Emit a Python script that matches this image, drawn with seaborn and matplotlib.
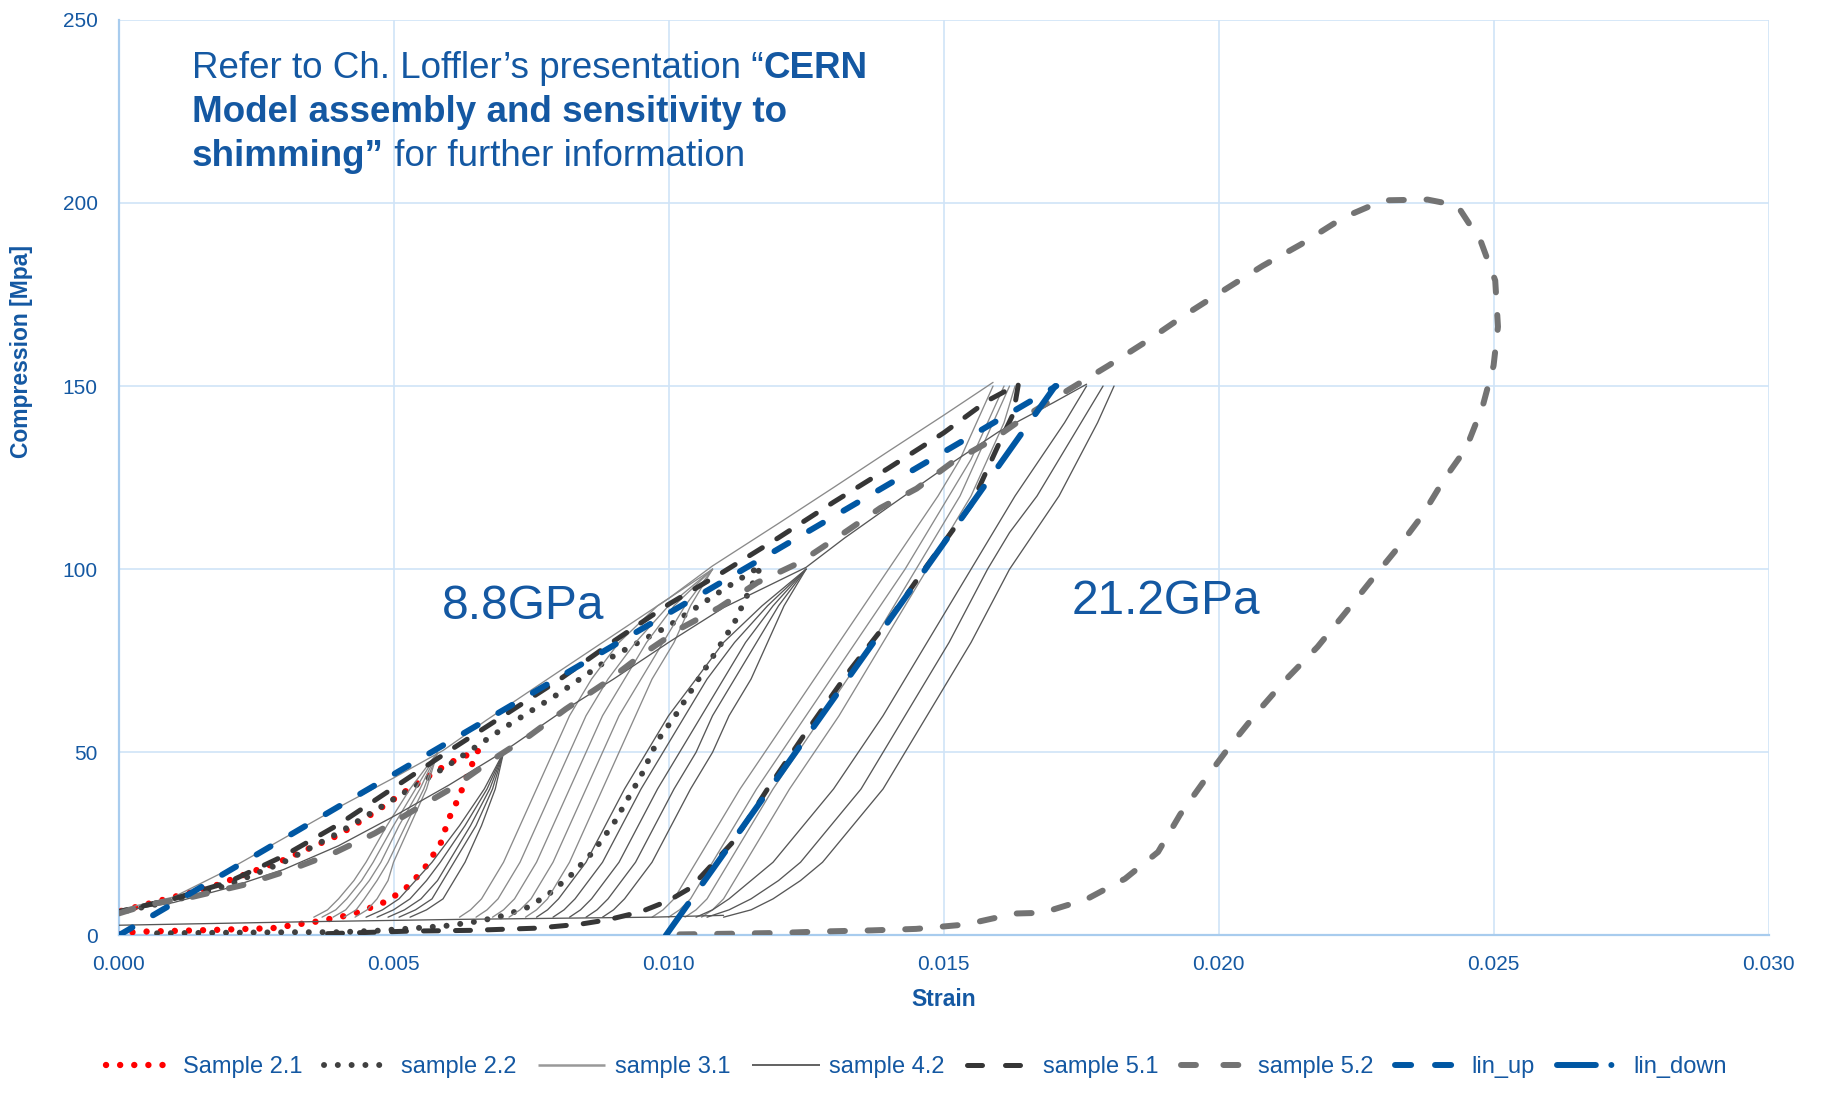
import numpy as np
import pandas as pd
import matplotlib
matplotlib.use("Agg")
import matplotlib.pyplot as plt
from matplotlib.lines import Line2D
from matplotlib.ticker import FuncFormatter
import seaborn as sns

# ---------------------------------------------------------------- data
# Sample 2.1: foot along the bottom, steep rise to 50 MPa, return along upper branch
S21_X = [0.0000, 0.0003, 0.0017, 0.0028, 0.0036, 0.0041, 0.0044, 0.0049, 0.0053, 0.0056,
         0.00586, 0.0060, 0.0062, 0.00636, 0.00654, 0.0060, 0.0053, 0.0046, 0.0040, 0.0030,
         0.0017, 0.0000]
S21_Y = [0.3, 1.0, 1.5, 2.0, 3.8, 5.3, 6.5, 9.5, 13.8, 19.1,
         25.3, 31.7, 38.1, 44.4, 50.6, 47.0, 40.2, 33.1, 27.4, 20.6,
         13.3, 6.5]

# Sample 2.2: cycle to 100 MPa
S22_X = [0.0007, 0.0014, 0.0032, 0.0040, 0.0047, 0.0054, 0.0060, 0.0065, 0.0069, 0.0074,
         0.0078, 0.00825, 0.00862, 0.0090, 0.0095, 0.0098, 0.0101, 0.0107, 0.0112, 0.01168,
         0.0110, 0.0100, 0.0090, 0.0080, 0.0070, 0.0060, 0.0050, 0.0040, 0.0030, 0.0020,
         0.0010, 0.0000]
S22_Y = [0.6, 0.7, 0.9, 0.9, 1.3, 2.0, 2.7, 3.8, 5.0, 7.4,
         11.0, 16.8, 22.7, 30.5, 43.6, 53.2, 59.5, 73.6, 85.5, 100.9,
         94.5, 84.5, 76.3, 66.0, 56.6, 46.5, 37.2, 28.0, 20.0, 13.8,
         9.5, 6.3]

# Sample 3.1: loading envelope and unload/reload cycles at 50, 100, 150 MPa
S31_ENV_X = [0.0, 0.001, 0.002, 0.003, 0.004, 0.005, 0.0059, 0.00669, 0.008, 0.009,
             0.010, 0.0108, 0.012, 0.013, 0.014, 0.015, 0.0159]
S31_ENV_Y = [7.0, 10.5, 18.0, 26.5, 35.0, 43.0, 50.5, 58.8, 72.0, 82.0,
             92.0, 100.9, 112.5, 122.3, 132.2, 142.0, 151.0]

# stress levels (MPa) at which the strain of each cycle branch is listed
LEVELS_50 = [5, 7, 10, 15, 20, 30, 40, 50]
LEVELS_100 = [5, 7, 10, 15, 20, 30, 40, 50, 60, 70, 80, 90, 100]
LEVELS_150 = [5, 7, 10, 15, 20, 30, 40, 50, 60, 70, 80, 90, 100, 110, 120, 130, 140, 150]

S31_CYCLES_50 = [
    [0.00355, 0.0038, 0.0040, 0.00428, 0.0045, 0.00488, 0.0053, 0.0058],
    [0.0037, 0.00395, 0.00415, 0.00442, 0.00463, 0.0050, 0.0054, 0.0058],
    [0.0039, 0.00413, 0.0043, 0.00456, 0.00477, 0.0051, 0.00548, 0.0058],
    [0.0041, 0.00432, 0.00447, 0.0047, 0.0049, 0.00522, 0.00555, 0.0058],
    [0.0043, 0.00452, 0.0047, 0.0049, 0.0050, 0.0053, 0.0056, 0.0058],
]
S31_CYCLES_100 = [
    [0.0062, 0.0064, 0.0066, 0.0068, 0.0070, 0.0073, 0.0076, 0.0079, 0.0082, 0.0086, 0.0091, 0.0098, 0.0108],
    [0.0065, 0.0067, 0.0069, 0.0071, 0.0073, 0.0076, 0.0079, 0.0082, 0.0085, 0.0089, 0.0094, 0.0100, 0.0108],
    [0.0068, 0.0070, 0.0072, 0.0074, 0.0076, 0.0079, 0.0082, 0.0085, 0.0088, 0.0092, 0.0096, 0.0101, 0.0108],
    [0.0071, 0.0073, 0.0075, 0.0077, 0.0079, 0.0082, 0.0085, 0.0088, 0.0091, 0.0095, 0.0099, 0.0103, 0.0108],
    [0.0074, 0.0076, 0.0078, 0.0080, 0.0082, 0.0085, 0.0088, 0.0091, 0.0094, 0.0097, 0.0101, 0.0104, 0.0108],
]
S31_CYCLES_150 = [
    [0.0097, 0.0099, 0.0101, 0.0103, 0.0105, 0.0109, 0.0113, 0.01175, 0.0122,
     0.01265, 0.0131, 0.01355, 0.0140, 0.01445, 0.0149, 0.0153, 0.0156, 0.0159],
    [0.0100, 0.0102, 0.0104, 0.0106, 0.0108, 0.0112, 0.0116, 0.01205, 0.0125,
     0.01295, 0.0134, 0.01385, 0.0143, 0.0147, 0.0151, 0.0155, 0.0158, 0.0161],
    [0.0103, 0.0105, 0.0107, 0.0109, 0.0111, 0.0115, 0.0119, 0.01235, 0.0128,
     0.01325, 0.0137, 0.0141, 0.0145, 0.0149, 0.0153, 0.0156, 0.0159, 0.0162],
    [0.0106, 0.0108, 0.0110, 0.0112, 0.0114, 0.0118, 0.0122, 0.01265, 0.0131,
     0.0135, 0.0139, 0.0143, 0.0147, 0.0151, 0.0155, 0.0158, 0.0161, 0.0163],
]

# Sample 4.2
S42_ENV_X = [0.0, 0.001, 0.002, 0.003, 0.004, 0.005, 0.006, 0.0070, 0.008, 0.009,
             0.010, 0.011, 0.0125, 0.0132, 0.014, 0.015, 0.016, 0.017, 0.0176]
S42_ENV_Y = [6.5, 9.0, 13.0, 18.0, 24.5, 32.5, 41.0, 50.2, 60.5, 70.0,
             80.0, 89.5, 100.5, 108.5, 117.0, 127.5, 137.5, 145.5, 150.5]
S42_BASE_X = [0.0, 0.0036, 0.0062, 0.0097, 0.0110]
S42_BASE_Y = [2.8, 3.8, 4.4, 5.0, 5.5]

S42_CYCLES_50 = [
    [0.0045, 0.0048, 0.0051, 0.0054, 0.0057, 0.0062, 0.00665, 0.0070],
    [0.0047, 0.0050, 0.0053, 0.0056, 0.00585, 0.0063, 0.0067, 0.0070],
    [0.0049, 0.0052, 0.0055, 0.0058, 0.0060, 0.0064, 0.00675, 0.0070],
    [0.0051, 0.0054, 0.0057, 0.0059, 0.0061, 0.0065, 0.0068, 0.0070],
    [0.0053, 0.0056, 0.0059, 0.0061, 0.0063, 0.0066, 0.00685, 0.0070],
]
S42_CYCLES_100 = [
    [0.0076, 0.0078, 0.0080, 0.00825, 0.0085, 0.00885, 0.0092, 0.0096, 0.0100, 0.0105, 0.0110, 0.0117, 0.0125],
    [0.0079, 0.0081, 0.0083, 0.00855, 0.0088, 0.00915, 0.0095, 0.0099, 0.0103, 0.0107, 0.0112, 0.0118, 0.0125],
    [0.0082, 0.0084, 0.0086, 0.00885, 0.0091, 0.00945, 0.0098, 0.0102, 0.0106, 0.0110, 0.0114, 0.0119, 0.0125],
    [0.0085, 0.0087, 0.0089, 0.00915, 0.0094, 0.00975, 0.0101, 0.0105, 0.0108, 0.0112, 0.0116, 0.0120, 0.0125],
    [0.0088, 0.0090, 0.0092, 0.00945, 0.0097, 0.01005, 0.0104, 0.0108, 0.0111, 0.0115, 0.0118, 0.0121, 0.0125],
]
S42_CYCLES_150 = [
    [0.0105, 0.0108, 0.0111, 0.0115, 0.0119, 0.01245, 0.0130, 0.01345, 0.0139,
     0.0143, 0.0147, 0.0151, 0.0155, 0.0159, 0.0163, 0.01675, 0.0172, 0.0176],
    [0.0107, 0.0111, 0.0115, 0.0120, 0.0124, 0.01295, 0.0135, 0.0139, 0.0143,
     0.0147, 0.0151, 0.01545, 0.0158, 0.0162, 0.0167, 0.0171, 0.0175, 0.0179],
    [0.0110, 0.0115, 0.0119, 0.0124, 0.0128, 0.01335, 0.0139, 0.0143, 0.0147,
     0.0151, 0.0155, 0.01585, 0.0162, 0.01665, 0.0171, 0.01745, 0.0178, 0.0181],
]

# Sample 5.1: single cycle to 150 MPa
S51_X = [0.0038, 0.0053, 0.0064, 0.0076, 0.0084, 0.0089, 0.0095, 0.0100, 0.0104, 0.0112,
         0.0118, 0.0125, 0.0133, 0.0140, 0.0147, 0.0155, 0.0160, 0.01627, 0.01636, 0.0158,
         0.0150, 0.0140, 0.0130, 0.0120, 0.0110, 0.0100, 0.0090, 0.0080, 0.0070, 0.0060,
         0.0050, 0.0040, 0.0030, 0.0020, 0.0010, 0.0000]
S51_Y = [0.5, 1.2, 1.4, 2.0, 3.1, 4.3, 6.5, 9.5, 13.0, 26.0,
         40.0, 55.5, 72.5, 86.0, 101.0, 117.5, 134.0, 142.5, 150.5, 146.0,
         137.2, 127.6, 118.3, 108.6, 99.3, 90.4, 80.3, 69.7, 60.0, 50.3,
         40.3, 30.3, 21.7, 14.6, 10.0, 6.5]

# Sample 5.2: single cycle to 200 MPa
S52_X = [0.0102, 0.0112, 0.0120, 0.0128, 0.0137, 0.0145, 0.0154, 0.0160, 0.0163, 0.0168,
         0.0176, 0.0183, 0.0189, 0.0193, 0.0198, 0.0202, 0.0207, 0.0212, 0.0218, 0.0223,
         0.0228, 0.0233, 0.0237, 0.0241, 0.0245, 0.0248, 0.0250, 0.02508, 0.02503, 0.02477,
         0.02434, 0.0238, 0.0230, 0.02227, 0.0215, 0.0208, 0.0201, 0.0194, 0.0187, 0.0180,
         0.01733, 0.01655, 0.01589, 0.01517, 0.01451, 0.01385, 0.01313, 0.01238, 0.01162, 0.01092,
         0.01025, 0.00953, 0.00886, 0.00813, 0.00747, 0.00679, 0.00608, 0.00536, 0.00466, 0.0039,
         0.00306, 0.00227, 0.00136, 0.0005, 0.0]
S52_Y = [0.3, 0.5, 0.7, 1.1, 1.4, 1.8, 3.0, 5.0, 6.0, 6.2,
         9.9, 15.5, 22.8, 33.0, 43.5, 51.6, 60.9, 69.5, 78.8, 88.0,
         97.4, 106.6, 114.6, 124.5, 133.0, 144.4, 155.6, 166.2, 178.8, 189.4,
         199.3, 200.9, 200.7, 196.0, 188.7, 182.8, 176.2, 169.5, 162.3, 155.6,
         149.5, 142.3, 135.3, 129.3, 122.0, 116.7, 109.3, 101.8, 96.4, 89.5,
         84.1, 76.8, 69.1, 61.8, 54.5, 47.9, 40.4, 34.1, 27.9, 22.4,
         17.6, 13.8, 10.6, 8.3, 6.0]

# Linear fits (8.8 GPa loading, 21.2 GPa unloading)
LIN_UP_X = [0.0, 0.01705]
LIN_UP_Y = [0.0, 150.0]
LIN_DOWN_X = [0.00995, 0.01703]
LIN_DOWN_Y = [0.0, 150.0]

LABELS = ["Sample 2.1", "sample 2.2", "sample 3.1", "sample 4.2",
          "sample 5.1", "sample 5.2", "lin_up", "lin_down"]

# ---------------------------------------------------------------- style
BLUE_TEXT = "#1458A2"
BLUE_LINE = "#0057A3"
GRID = "#D0E4F7"
SPINE = "#A8CCEE"

sns.set_theme(style="white")
plt.rcParams["font.family"] = ["Liberation Sans", "DejaVu Sans"]

fig = plt.figure(figsize=(18.22, 11.0), dpi=100)
ax = fig.add_axes([0.06504, 0.14955, 0.90565, 0.8325])


def frame(segments):
    parts = []
    for k, (xs, ys) in enumerate(segments):
        parts.append(pd.DataFrame({"strain": xs, "stress": ys, "seg": k}))
    return pd.concat(parts, ignore_index=True)


def cycles(levels, strain_lists):
    return [(xs, levels) for xs in strain_lists]


def draw(segments, z, **style):
    sns.lineplot(data=frame(segments), x="strain", y="stress", units="seg",
                 estimator=None, sort=False, ax=ax, legend=False, zorder=z,
                 solid_capstyle="round", dash_capstyle="round", **style)


STYLES = {
    "s21": dict(color="#FF0000", linewidth=4.6, linestyle=(0, (0.01, 2.2))),
    "s22": dict(color="#404040", linewidth=4.3, linestyle=(0, (0.01, 2.3))),
    "s31": dict(color="#8A8A8A", linewidth=0.95, linestyle="-"),
    "s42": dict(color="#575757", linewidth=0.95, linestyle="-"),
    "s51": dict(color="#363636", linewidth=3.6, linestyle=(0, (3.0, 3.4))),
    "s52": dict(color="#737373", linewidth=4.3, linestyle=(0, (2.5, 3.8))),
    "up": dict(color=BLUE_LINE, linewidth=4.3, linestyle=(0, (2.7, 4.0))),
    "down": dict(color=BLUE_LINE, linewidth=4.3, linestyle=(0, (6.5, 4.2))),
}

draw([(S21_X, S21_Y)], 3, **STYLES["s21"])
draw([(S22_X, S22_Y)], 4, **STYLES["s22"])
draw([(S31_ENV_X, S31_ENV_Y)]
     + cycles(LEVELS_50, S31_CYCLES_50)
     + cycles(LEVELS_100, S31_CYCLES_100)
     + cycles(LEVELS_150, S31_CYCLES_150), 5, **STYLES["s31"])
draw([(S42_ENV_X, S42_ENV_Y), (S42_BASE_X, S42_BASE_Y)]
     + cycles(LEVELS_50, S42_CYCLES_50)
     + cycles(LEVELS_100, S42_CYCLES_100)
     + cycles(LEVELS_150, S42_CYCLES_150), 6, **STYLES["s42"])
draw([(S51_X, S51_Y)], 7, **STYLES["s51"])
draw([(S52_X, S52_Y)], 8, **STYLES["s52"])
draw([(LIN_UP_X, LIN_UP_Y)], 9, **STYLES["up"])
draw([(LIN_DOWN_X, LIN_DOWN_Y)], 10, **STYLES["down"])

# ---------------------------------------------------------------- axes
ax.set_xlim(0, 0.030)
ax.set_ylim(0, 250)
ax.set_xticks(np.arange(0, 0.0301, 0.005))
ax.set_yticks(np.arange(0, 251, 50))
ax.xaxis.set_major_formatter(FuncFormatter(lambda v, p: f"{v:.3f}"))
ax.yaxis.set_major_formatter(FuncFormatter(lambda v, p: f"{v:.0f}"))
ax.grid(True, color=GRID, linewidth=1.2, zorder=0)
ax.set_axisbelow(True)
for side in ("top", "right"):
    ax.spines[side].set_visible(False)
for side in ("left", "bottom"):
    ax.spines[side].set_color(SPINE)
    ax.spines[side].set_linewidth(1.6)
ax.tick_params(axis="both", length=0, labelsize=15, labelcolor=BLUE_TEXT)
ax.tick_params(axis="x", pad=14)
ax.tick_params(axis="y", pad=15)
ax.set_xlabel("")
ax.set_ylabel("")

fig.text(943.5 / 1822, 1 - 999 / 1100, "Strain", ha="center", va="center",
         fontsize=16.5, fontweight="bold", color=BLUE_TEXT)
fig.text(22 / 1822, 1 - 351.5 / 1100, "Compression [Mpa]", ha="center", va="center",
         rotation=90, fontsize=16.5, fontweight="bold", color=BLUE_TEXT)

# ---------------------------------------------------------------- notes
note_kw = dict(fontsize=26.5, color=BLUE_TEXT)
t1 = ax.text(0.0444, 0.9366, "Refer to Ch. Loffler\u2019s presentation \u201c",
             transform=ax.transAxes, va="baseline", ha="left", **note_kw)
ax.annotate("CERN", xy=(1, 0), xycoords=t1, va="bottom", ha="left",
            fontweight="bold", **note_kw)
ax.text(0.0444, 0.8884, "Model assembly and sensitivity to", transform=ax.transAxes,
        va="baseline", ha="left", fontweight="bold", **note_kw)
t3 = ax.text(0.0444, 0.8403, "shimming\u201d", transform=ax.transAxes,
             va="baseline", ha="left", fontweight="bold", **note_kw)
ax.annotate(" for further information", xy=(1, 0), xycoords=t3, va="bottom",
            ha="left", **note_kw)

ax.text(0.1958, 0.3453, "8.8GPa", transform=ax.transAxes, va="baseline", ha="left",
        fontsize=34.5, color=BLUE_TEXT)
ax.text(0.5775, 0.3516, "21.2GPa", transform=ax.transAxes, va="baseline", ha="left",
        fontsize=34.5, color=BLUE_TEXT)

# ---------------------------------------------------------------- legend
# legend keys: two dashes per dashed key, long-dash-dot key for lin_down
handle_styles = [
    STYLES["s21"], STYLES["s22"],
    dict(color="#999999", linewidth=1.8, linestyle="-"),
    dict(color="#555555", linewidth=1.3, linestyle="-"),
    dict(color="#363636", linewidth=3.6, linestyle=(0, (3.0, 4.6))),
    dict(color="#737373", linewidth=4.3, linestyle=(0, (2.5, 4.6))),
    dict(color=BLUE_LINE, linewidth=4.3, linestyle=(0, (2.7, 4.0))),
    dict(color=BLUE_LINE, linewidth=4.3, linestyle=(0, (6.5, 2.6, 0.01, 2.6))),
]
handles = [Line2D([0], [0], dash_capstyle="round", solid_capstyle="butt", **st)
           for st in handle_styles]
fig.legend(handles, LABELS, loc="center", bbox_to_anchor=(0.503, 1 - 1067 / 1100),
           ncol=8, frameon=False, fontsize=17, handlelength=2.85, handletextpad=0.4,
           columnspacing=0.93, labelcolor=BLUE_TEXT)

fig.savefig("out.png", dpi=100, facecolor="white")
